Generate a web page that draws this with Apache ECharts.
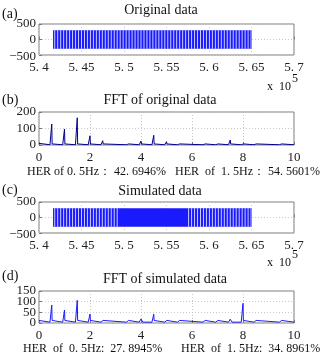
<!DOCTYPE html>
<html>
<head>
<meta charset="utf-8">
<script src="https://cdn.jsdelivr.net/npm/echarts@6/dist/echarts.min.js"></script>
<style>
  html, body { margin: 0; padding: 0; background: #fff; }
  #chart { width: 320px; height: 356px; }
</style>
</head>
<body>
<div id="chart"></div>
<script>
// time-domain signal (x in units of 10^5 samples)
const burstSpan = [5.4165, 5.6505];
const burstAmp = 300;
const simSolidBlock = [5.4935, 5.5725];
const gapTimes = [
  5.4185, 5.4220, 5.4255, 5.4290, 5.4325, 5.4360, 5.4395, 5.4430, 5.4465, 5.4500,
  5.4535, 5.4570, 5.4605, 5.4640, 5.4675, 5.4710, 5.4745, 5.4780, 5.4815, 5.4850,
  5.4885, 5.4920, 5.4955, 5.4990, 5.5025, 5.5060, 5.5095, 5.5130, 5.5165, 5.5200,
  5.5235, 5.5270, 5.5305, 5.5340, 5.5375, 5.5410, 5.5445, 5.5480, 5.5515, 5.5550,
  5.5585, 5.5620, 5.5655, 5.5690, 5.5725, 5.5760, 5.5795, 5.5830, 5.5865, 5.5900,
  5.5935, 5.5970, 5.6005, 5.6040, 5.6075, 5.6110, 5.6145, 5.6180, 5.6215, 5.6250,
  5.6285, 5.6320, 5.6355, 5.6390, 5.6425, 5.6460, 5.6495
];
const simGapTimes = gapTimes.filter(x => x < simSolidBlock[0] || x > simSolidBlock[1]);

// spectra
const peakFreqs = [0.5, 1, 1.5, 2, 2.5, 3.5, 4, 4.5, 5, 5.5, 6.5, 7, 7.5, 8, 8.5, 9.5];
const peakAmpOrig = [127, 97, 165, 56, 26, 12, 24, 59, 20, 8, 5, 12, 30, 10, 5, 3];
const peakAmpSim = [84, 61, 106, 42, 14, 8, 19, 41, 12, 5, 5, 8, 18, 92, 4, 3];
const dcOrig = 10, floorOrig = 1.5, skirtOrig = 5;
const dcSim = 12, floorSim = 4, skirtSim = 8;

// y tick labels per panel
const yTicksTime = [-500, 0, 500];
const yTicksFftOrig = [0, 100, 200];
const yTicksFftSim = [0, 50, 100, 150];

const herOrig = ['HER of 0. 5Hz： 42. 6946%', 'HER  of  1. 5Hz： 54. 5601%'];
const herSim = ['HER  of  0. 5Hz:  27. 8945%', 'HER  of  1. 5Hz:  34. 8961%'];

const FONT = '"Liberation Serif", "DejaVu Serif", serif';
const GRAY = '#7a7a7a';

function spectrum(amps, dc, floor, skirt) {
  const pts = [[0, dc], [0.04, floor]];
  peakFreqs.forEach((f, i) => {
    pts.push([f - 0.07, floor], [f - 0.015, floor + skirt], [f, amps[i]],
             [f + 0.015, floor + skirt], [f + 0.07, floor]);
  });
  pts.push([10, floor]);
  return pts;
}

const chart = echarts.init(document.getElementById('chart'), null, { renderer: 'canvas' });

const grids = [
  { left: 39, width: 255, top: 24, height: 31 },
  { left: 39, width: 255, top: 112, height: 33 },
  { left: 39, width: 255, top: 202, height: 31 },
  { left: 39, width: 255, top: 291, height: 32 }
];
const panelYTicks = [yTicksTime, yTicksFftOrig, yTicksTime, yTicksFftSim];
const panelXMin = [5.4, 0, 5.4, 0];

function xAxisFor(idx, isTime) {
  return {
    gridIndex: idx, type: 'value',
    min: isTime ? 5.4 : 0, max: isTime ? 5.7 : 10, interval: isTime ? 0.05 : 2,
    axisLine: { show: false },
    axisTick: { inside: true, length: 3, lineStyle: { color: GRAY } },
    splitLine: { show: true, lineStyle: { color: '#c8c8c8', type: [1, 2] } },
    axisLabel: {
      color: '#222', fontFamily: FONT, fontSize: 13, margin: 6,
      showMinLabel: true, showMaxLabel: true,
      formatter: v => isTime ? String(parseFloat(v.toFixed(2))).replace('.', '. ') : String(v)
    }
  };
}
function yAxisFor(idx, ticks) {
  return {
    gridIndex: idx, type: 'value', min: ticks[0], max: ticks[ticks.length - 1], interval: ticks[1] - ticks[0],
    axisLine: { show: false },
    axisTick: { inside: true, length: 3, lineStyle: { color: GRAY } },
    splitLine: { show: true, lineStyle: { color: '#c8c8c8', type: [1, 2] } },
    axisLabel: { show: false }
  };
}

function burstSeries(idx, blocks) {
  return {
    type: 'custom', xAxisIndex: idx, yAxisIndex: idx, clip: true,
    data: blocks,
    renderItem: (params, api) => {
      const p0 = api.coord([api.value(0), burstAmp]);
      const p1 = api.coord([api.value(1), -burstAmp]);
      return { type: 'rect', shape: { x: p0[0], y: p0[1], width: p1[0] - p0[0], height: p1[1] - p0[1] },
               style: { fill: '#1a1aff' } };
    }
  };
}
function gapSeries(idx, gaps) {
  return {
    type: 'custom', xAxisIndex: idx, yAxisIndex: idx, clip: true,
    data: gaps.map(g => [g]),
    renderItem: (params, api) => {
      const p0 = api.coord([api.value(0), burstAmp]);
      const p1 = api.coord([api.value(0), -burstAmp]);
      return { type: 'line', shape: { x1: p0[0], y1: p0[1], x2: p1[0], y2: p1[1] },
               style: { stroke: 'rgba(235,235,255,0.85)', lineWidth: 1 } };
    }
  };
}

function centered(cx, cy, s, size) {
  return { type: 'text', x: cx, y: cy,
    style: { text: s, fontFamily: FONT, fontSize: size, fill: '#111', align: 'center', verticalAlign: 'middle' } };
}
function leftText(x, cy, s, size) {
  return { type: 'text', x: x, y: cy,
    style: { text: s, fontFamily: FONT, fontSize: size, fill: '#111', align: 'left', verticalAlign: 'middle' } };
}

const baseGraphics = [
  leftText(2, 14, '(a)', 14),
  centered(161, 10, 'Original data', 14),
  leftText(267, 87, 'x  10', 12),
  leftText(292, 79, '5', 12),

  leftText(2, 100, '(b)', 14),
  centered(160, 100, 'FFT of original data', 14),
  leftText(27, 172, herOrig[0], 12),
  leftText(175, 172, herOrig[1], 12),

  leftText(2, 190, '(c)', 14),
  centered(160, 191, 'Simulated data', 14),
  leftText(267, 263, 'x  10', 12),
  leftText(292, 255, '5', 12),

  leftText(2, 276, '(d)', 14),
  centered(165, 279, 'FFT of simulated data', 14),
  leftText(23, 349, herSim[0], 12),
  leftText(181, 349, herSim[1], 12)
];

chart.setOption({
  animation: false,
  grid: grids.map(g => Object.assign({ show: true, borderColor: GRAY, borderWidth: 1, backgroundColor: '#fff' }, g)),
  xAxis: [xAxisFor(0, true), xAxisFor(1, false), xAxisFor(2, true), xAxisFor(3, false)],
  yAxis: panelYTicks.map((t, i) => yAxisFor(i, t)),
  series: [
    burstSeries(0, [burstSpan]),
    gapSeries(0, gapTimes),
    {
      type: 'line', xAxisIndex: 1, yAxisIndex: 1, showSymbol: false, symbol: 'none',
      data: spectrum(peakAmpOrig, dcOrig, floorOrig, skirtOrig),
      lineStyle: { color: '#00008f', width: 1 }
    },
    burstSeries(2, [burstSpan]),
    gapSeries(2, simGapTimes),
    {
      type: 'line', xAxisIndex: 3, yAxisIndex: 3, showSymbol: false, symbol: 'none',
      data: spectrum(peakAmpSim, dcSim, floorSim, skirtSim),
      lineStyle: { color: '#1a1aff', width: 1 }
    }
  ],
  graphic: baseGraphics
});

// y tick labels placed through the axes' own scales (ECharts hides crowded ones)
const yLabels = [];
panelYTicks.forEach((ticks, i) => {
  ticks.forEach(v => {
    const p = chart.convertToPixel({ xAxisIndex: i, yAxisIndex: i }, [panelXMin[i], v]);
    yLabels.push({ type: 'text', x: p[0] - 3, y: p[1] + (v === ticks[0] && v < 0 ? 2 : 0),
      style: { text: String(v).replace('-', '\u2212'), fontFamily: FONT, fontSize: 13, fill: '#222',
               align: 'right', verticalAlign: 'middle' } });
  });
});
chart.setOption({ graphic: baseGraphics.concat(yLabels) });

window.addEventListener('resize', () => chart.resize());
</script>
</body>
</html>
